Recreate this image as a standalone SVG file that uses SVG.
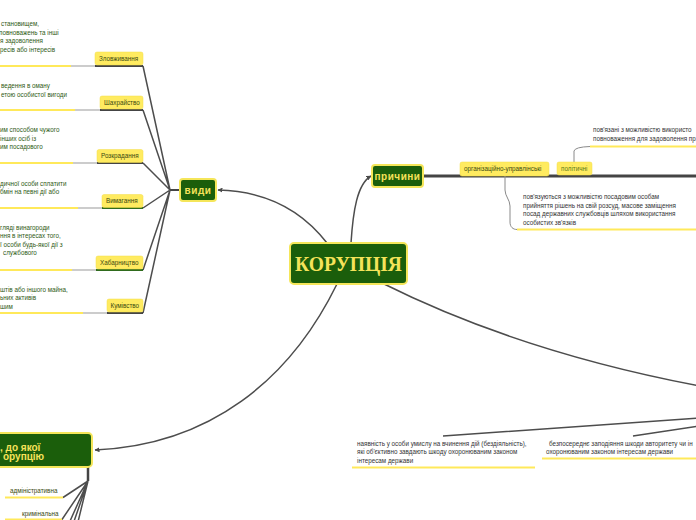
<svg xmlns="http://www.w3.org/2000/svg" width="696" height="520" viewBox="0 0 696 520">
<defs>
<marker id="arr" viewBox="0 0 10 10" refX="9" refY="5" markerWidth="5" markerHeight="5" orient="auto" markerUnits="userSpaceOnUse">
<path d="M0,0 L10,5 L0,10 z" fill="#4a4a4a"/>
</marker>
</defs>
<style>
.t{font-family:"Liberation Sans",Arial,sans-serif;font-size:6.3px}
.dg{fill:#2f5a14}
.lb{fill:#3a4a10}
.gr{fill:#333333}
.box{fill:#ffeb60;stroke:#f3dc4a;stroke-width:0.5}
.node{fill:#1b5e0b;stroke:#f5e65a;stroke-width:2}
.nt{font-family:"Liberation Sans",Arial,sans-serif;font-weight:bold;font-size:10px;fill:#f5e35a}
.yl{stroke:#ffe95a;stroke-width:2;fill:none}
.gl{stroke:#cccccc;stroke-width:2;fill:none}
.dl{stroke:#444444;stroke-width:2;fill:none}
.gn{stroke:#2f6b1d;stroke-width:2;fill:none}
.con{stroke:#4d4d4d;stroke-width:1.5;fill:none}
.thin{stroke:#8a8a8a;stroke-width:1;fill:none}
</style>
<rect width="696" height="520" fill="#ffffff"/>

<g id="connectors">
<path class="con" d="M327,243 C300,208 262,191 218,190" marker-end="url(#arr)"/>
<path class="con" d="M351,243 C353,212 357,184 371,176" marker-end="url(#arr)"/>
<path class="con" d="M337,284 C290,380 210,445 95,450" marker-end="url(#arr)"/>
<path class="con" d="M382,283 Q520,352 700,386"/>
<path class="dl" d="M170,190 L180,190"/>
<path class="con" d="M143,66 L170,190 M143,110 L170,190 M143,163 L170,190 M143,208 L170,190 M143,270 L170,190 M143,313 L170,190"/>
<path stroke="#444" stroke-width="3" fill="none" d="M423,176 L696,176"/>
<path class="thin" d="M574,162 L574,151 Q575,147 590,146.5"/>
<path class="thin" d="M505,176 L505,190 C505,196 510,200 510,206 L510,222 C510,227 513,229.5 517,229.5"/>
<path class="con" d="M443,436 L700,418 M633,436 L700,426"/>
<path stroke="#444" stroke-width="2.5" fill="none" d="M88,467 L88,481"/>
<path class="con" d="M88,481 L63,497.5 M88,481 L62,519.5 M88,481 L66,530 M88,481 L71,530 M88,481 L76,530"/>
</g>

<g id="zlovzhyvannia">
<text class="t dg" x="1" y="26">становищем,</text>
<text class="t dg" x="-1" y="34.5">повноважень та інші</text>
<text class="t dg" x="0" y="43">я задоволення</text>
<text class="t dg" x="0" y="51.5">ресів або інтересів</text>
<path class="yl" d="M0,66 L71,66"/><path class="gl" d="M71,66 L95,66"/><path class="dl" d="M95,66 L143,66"/>
<rect class="box" x="95" y="52" width="48" height="13" rx="2"/>
<text class="t lb" x="99" y="60.8">Зловживання</text>
</g>

<g id="shakhraistvo">
<text class="t dg" x="1" y="88">ведення в оману</text>
<text class="t dg" x="1" y="96.5">етою особистої вигоди</text>
<path class="yl" d="M0,110 L75,110"/><path class="gl" d="M75,110 L100,110"/><path class="dl" d="M100,110 L143,110"/>
<rect class="box" x="100" y="96" width="43" height="13" rx="2"/>
<text class="t lb" x="104" y="104.8">Шахрайство</text>
</g>

<g id="rozkradannia">
<text class="t dg" x="0" y="132">им способом чужого</text>
<text class="t dg" x="0" y="140.5">інших осіб із</text>
<text class="t dg" x="0" y="149">им посадового</text>
<path class="yl" d="M0,163 L73,163"/><path class="gl" d="M73,163 L97,163"/><path class="dl" d="M97,163 L143,163"/>
<rect class="box" x="97" y="149.5" width="46" height="13" rx="2"/>
<text class="t lb" x="101" y="158.3">Розкрадання</text>
</g>

<g id="vymagannia">
<text class="t dg" x="0" y="185.5">дичної особи сплатити</text>
<text class="t dg" x="0" y="194">бмін на певні дії або</text>
<path class="yl" d="M0,208 L78,208"/><path class="gl" d="M78,208 L102,208"/><path class="gn" d="M102,208 L143,208"/>
<rect class="box" x="102" y="194.5" width="41" height="13" rx="2"/>
<text class="t lb" x="106" y="203.3">Вимагання</text>
</g>

<g id="khabarnytstvo">
<text class="t dg" x="0" y="229.5">гляді винагороди</text>
<text class="t dg" x="0" y="238">ння в інтересах того,</text>
<text class="t dg" x="0" y="246.5">ї особи будь-якої дії з</text>
<text class="t dg" x="3" y="255">службового</text>
<path class="yl" d="M0,270 L72,270"/><path class="gl" d="M72,270 L96,270"/><path class="gn" d="M96,270 L143,270"/>
<rect class="box" x="96" y="256" width="47" height="13" rx="2"/>
<text class="t lb" x="100" y="264.8">Хабарництво</text>
</g>

<g id="kumivstvo">
<text class="t dg" x="0" y="291.5">штів або іншого майна,</text>
<text class="t dg" x="0" y="300">ьних активів</text>
<text class="t dg" x="0" y="308.5">шим</text>
<path class="yl" d="M0,313 L83,313"/><path class="gl" d="M83,313 L107,313"/><path class="dl" d="M107,313 L143,313"/>
<rect class="box" x="107" y="299" width="36" height="13" rx="2"/>
<text class="t lb" x="110.5" y="307.8">Кумівство</text>
</g>

<g id="vydy">
<rect class="node" x="180" y="179" width="36" height="22" rx="3"/>
<text class="nt" x="198" y="193.5" text-anchor="middle" letter-spacing="0.5">види</text>
</g>

<g id="koruptsiia">
<rect class="node" x="290" y="243" width="117" height="41" rx="4"/>
<text x="348.5" y="271" text-anchor="middle" font-family="'Liberation Serif','Times New Roman',serif" font-weight="bold" font-size="20" fill="#f5e35a" textLength="107" lengthAdjust="spacingAndGlyphs">КОРУПЦІЯ</text>
</g>

<g id="prychyny">
<rect class="node" x="372" y="165" width="51" height="22" rx="3"/>
<text class="nt" x="397.5" y="179.5" text-anchor="middle" letter-spacing="0.5">причини</text>
</g>

<g id="orhanizatsiino">
<rect class="box" x="460" y="162" width="89" height="14" rx="2"/>
<text class="t lb" x="464" y="171.3">організаційно-управлінські</text>
</g>

<g id="orh-text">
<text class="t gr" x="523" y="199">пов'язуються з можливістю посадовим особам</text>
<text class="t gr" x="523" y="207.5">прийняття рішень на свій розсуд, масове заміщення</text>
<text class="t gr" x="523" y="216">посад державних службовців шляхом використання</text>
<text class="t gr" x="523" y="224.5">особистих зв'язків</text>
<path class="yl" d="M517,229.5 L696,229.5"/>
</g>

<g id="politychni">
<rect class="box" x="557" y="162" width="35" height="13" rx="2"/>
<text class="t" x="561" y="170.8" fill="#5a7a1a">політичні</text>
</g>

<g id="pol-text">
<text class="t gr" x="593" y="132">пов'язані з можливістю використо</text>
<text class="t gr" x="593" y="140.5">повноваження для задоволення пр</text>
<path class="yl" d="M590,146.5 L696,146.5"/>
</g>

<g id="umysel">
<text class="t gr" x="357" y="445.5">наявність у особи умислу на вчинення дій (бездіяльність),</text>
<text class="t gr" x="357" y="454">які об'єктивно завдають шкоду охоронюваним законом</text>
<text class="t gr" x="357" y="462.5">інтересам держави</text>
<path class="yl" d="M352,467.5 L535,467.5"/>
</g>

<g id="shkoda">
<text class="t gr" x="549" y="445.5">безпосереднє заподіяння шкоди авторитету чи ін</text>
<text class="t gr" x="546" y="454">охоронюваним законом інтересам держави</text>
<path class="yl" d="M542,458.5 L696,458.5"/>
</g>

<g id="vidpovidalnist">
<rect class="node" x="-10" y="433" width="102" height="34" rx="4"/>
<text class="nt" x="0" y="450.5">, до якої</text>
<text class="nt" x="3" y="460">орупцію</text>
</g>

<g id="adm">
<text class="t lb" x="10" y="492.5">адміністративна</text>
<path class="yl" d="M5,497.5 L63,497.5"/>
</g>
<g id="krym">
<text class="t lb" x="22" y="515.5">кримінальна</text>
<path class="yl" d="M5,519.5 L62,519.5"/>
</g>
</svg>
